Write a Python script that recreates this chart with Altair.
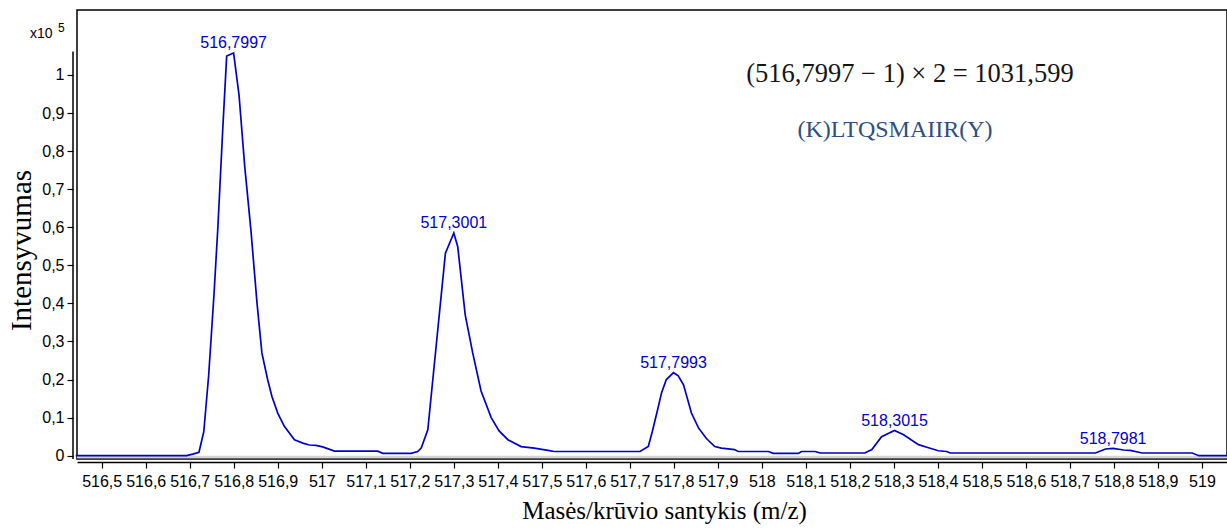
import altair as alt
import pandas as pd

# Profile spectrum: m/z vs intensity (x10^5)
mz = [516.441, 516.693, 516.707, 516.721, 516.732, 516.743, 516.755, 516.764,
      516.775, 516.784, 516.7997, 516.812, 516.825, 516.839, 516.853, 516.864,
      516.877, 516.887, 516.900, 516.915, 516.938, 516.957, 516.972, 516.987,
      517.002, 517.029, 517.127, 517.139, 517.203, 517.218, 517.226, 517.241,
      517.261, 517.281, 517.3001, 517.309, 517.326, 517.343, 517.362, 517.385,
      517.403, 517.423, 517.453, 517.483, 517.514, 517.528, 517.723, 517.742,
      517.751, 517.763, 517.772, 517.783, 517.7993, 517.810, 517.822, 517.840,
      517.856, 517.874, 517.893, 517.908, 517.938, 517.946, 518.015, 518.026,
      518.083, 518.090, 518.121, 518.132, 518.234, 518.250, 518.272, 518.3015,
      518.322, 518.356, 518.375, 518.401, 518.420, 518.428, 518.758, 518.781,
      518.7981, 518.822, 518.837, 518.864, 518.978, 518.993, 519.061]
intensity = [0, 0, 0.004, 0.009, 0.063, 0.21, 0.42, 0.60,
             0.856, 1.05, 1.058, 0.948, 0.76, 0.593, 0.40, 0.27,
             0.20, 0.155, 0.112, 0.077, 0.042, 0.033, 0.028, 0.027,
             0.023, 0.012, 0.012, 0.006, 0.006, 0.011, 0.02, 0.068,
             0.30, 0.532, 0.585, 0.549, 0.37, 0.27, 0.17, 0.10,
             0.065, 0.042, 0.024, 0.02, 0.014, 0.011, 0.011, 0.024,
             0.063, 0.12, 0.165, 0.20, 0.218, 0.21, 0.186, 0.112,
             0.073, 0.045, 0.024, 0.02, 0.016, 0.011, 0.011, 0.006,
             0.006, 0.011, 0.011, 0.007, 0.007, 0.016, 0.05, 0.066,
             0.055, 0.029, 0.022, 0.013, 0.011, 0.007, 0.007, 0.0175,
             0.019, 0.015, 0.014, 0.007, 0.007, 0, 0]

# Labelled isotope peaks
peak_mz = [516.7997, 517.3001, 517.7993, 518.3015, 518.7981]
peak_int = [1.058, 0.585, 0.218, 0.066, 0.019]
peak_text = ["516,7997", "517,3001", "517,7993", "518,3015", "518,7981"]

x_ticks = [round(516.5 + 0.1 * i, 1) for i in range(26)]
y_ticks = [round(0.1 * i, 1) for i in range(11)]

equation = "(516,7997 \u2212 1) \u00d7 2 = 1031,599"
sequence = "(K)LTQSMAIIR(Y)"

SANS = "Liberation Sans Narrow, Arial Narrow, Liberation Sans, Arial"
SERIF = "Liberation Serif, Times New Roman, serif"
BLUE = "#0000CC"
comma_fmt = "replace(format(datum.value, '.1~f'), '.', ',')"

spec_df = pd.DataFrame({"mz": mz, "intensity": intensity})
peaks_df = pd.DataFrame({"mz": peak_mz, "intensity": peak_int, "label": peak_text})
one = pd.DataFrame({"k": [0]})

x_scale = alt.Scale(domain=[516.4439, 519.0569], nice=False, zero=False)
y_scale = alt.Scale(domain=[-0.0087, 1.1707], nice=False, zero=False)

x_axis = alt.Axis(
    values=x_ticks, labelExpr=comma_fmt, offset=3, grid=False,
    domainColor="black", domainWidth=1.5, tickColor="black", tickSize=6,
    tickWidth=1.2, labelFont=SANS, labelFontSize=16, labelColor="black",
    labelPadding=5, labelFlush=False, labelOverlap=False,
    title="Masės/krūvio santykis (m/z)", titleFont=SERIF, titleFontSize=25,
    titleFontWeight="normal", titleColor="black", titleX=587, titleY=56,
    titleAlign="center", titleBaseline="alphabetic",
)
y_axis = alt.Axis(
    values=y_ticks, labelExpr=comma_fmt, offset=4, grid=False, domain=False,
    tickColor="black", tickSize=6, tickWidth=1.2, labelFont=SANS,
    labelFontSize=16, labelColor="black", labelPadding=3, labelFlush=False,
    labelOverlap=False,
    title="Intensyvumas", titleFont=SERIF, titleFontSize=29,
    titleFontWeight="normal", titleColor="black", titleX=-43, titleY=240,
    titleAngle=-90, titleAlign="center", titleBaseline="alphabetic",
)

trace = alt.Chart(spec_df).mark_line(color=BLUE, strokeWidth=1.7, clip=False).encode(
    x=alt.X("mz:Q", scale=x_scale, axis=x_axis),
    y=alt.Y("intensity:Q", scale=y_scale, axis=y_axis),
)

labels = alt.Chart(peaks_df).mark_text(
    color=BLUE, font=SANS, fontSize=16, baseline="alphabetic", dy=-4.5
).encode(x="mz:Q", y="intensity:Q", text="label:N")

# light baseline band just above the frame bottom
band = alt.Chart(one).mark_rule(color="#d4d4d4", strokeWidth=2.5).encode(
    y=alt.datum(-0.0035)
)

# y axis line running from zero up to just above the top tick
y_line = alt.Chart(one).mark_rule(color="black", strokeWidth=1.5).encode(
    x=alt.value(-4), y=alt.datum(1.062), y2=alt.datum(-0.0087)
)

eq_text = alt.Chart(one).mark_text(
    font=SERIF, fontSize=26.5, color="#151515", baseline="alphabetic"
).encode(x=alt.datum(518.3366), y=alt.datum(0.9824), text=alt.value(equation))

seq_text = alt.Chart(one).mark_text(
    font=SERIF, fontSize=24, color="#2F4F82", baseline="alphabetic"
).encode(x=alt.datum(518.3026), y=alt.datum(0.838), text=alt.value(sequence))

exp_base = alt.Chart(one).mark_text(
    font=SANS, fontSize=14, color="black", align="left", baseline="alphabetic"
).encode(x=alt.value(-47), y=alt.value(28), text=alt.value("x10"))
exp_sup = alt.Chart(one).mark_text(
    font=SANS, fontSize=12, color="black", align="left", baseline="alphabetic"
).encode(x=alt.value(-19), y=alt.value(22), text=alt.value("5"))

chart = alt.layer(
    band, trace, labels, y_line, eq_text, seq_text, exp_base, exp_sup
).properties(
    width=1150, height=449,
    padding={"left": 77, "top": 10, "right": 0, "bottom": 73},
    autosize=alt.AutoSizeParams(type="none"),
    background="white",
).configure_view(stroke="black", strokeWidth=1.5)

chart.save("out.html", embed_options={"renderer": "svg", "actions": False})
